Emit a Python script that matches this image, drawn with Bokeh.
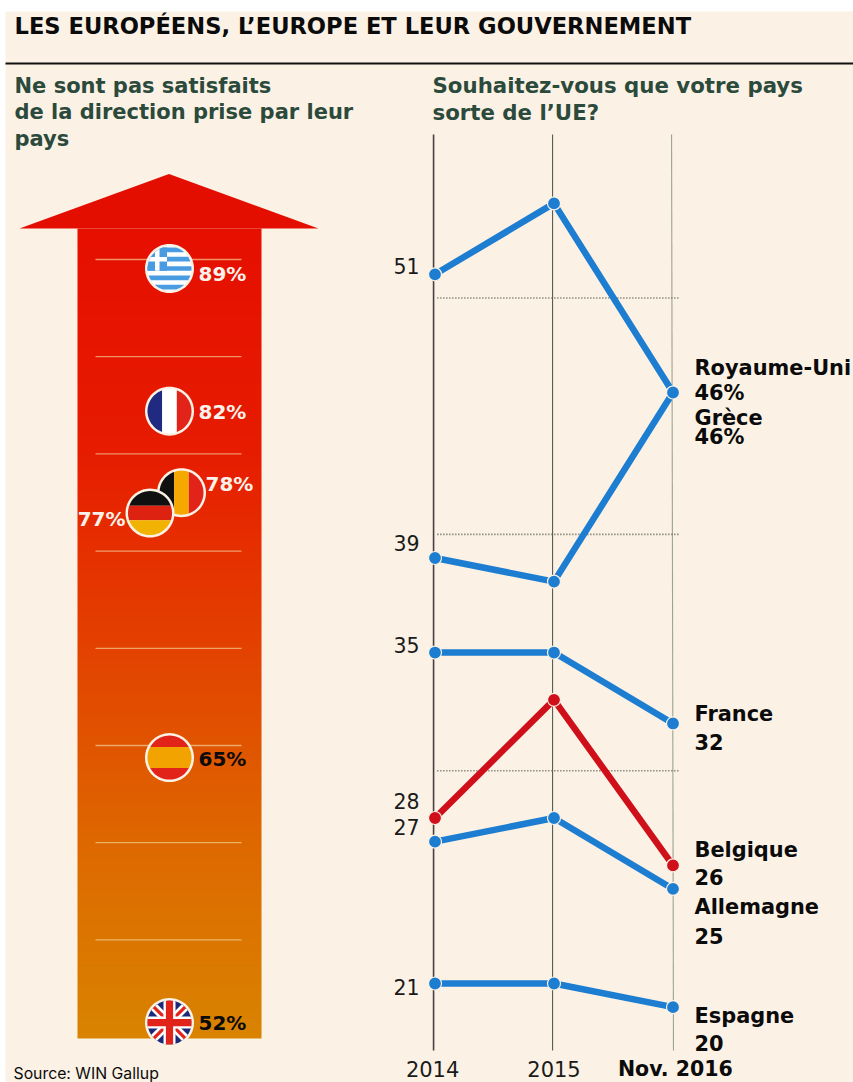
import math
import numpy as np
from bokeh.core.properties import value
from bokeh.embed import file_html
from bokeh.models import ColumnDataSource, Range1d
from bokeh.plotting import figure
from bokeh.resources import INLINE

# ---- data -------------------------------------------------------------
TITLE = "LES EUROPÉENS, L’EUROPE ET LEUR GOUVERNEMENT"
LEFT_HEADING = ["Ne sont pas satisfaits", "de la direction prise par leur", "pays"]
RIGHT_HEADING = ["Souhaitez-vous que votre pays", "sorte de l’UE?"]
SOURCE = "Source: WIN Gallup"

flag_names = ["Grèce", "France", "Belgique", "Allemagne", "Espagne", "Royaume-Uni"]
dissatisfied = [89, 82, 78, 77, 65, 52]

periods = ["2014", "2015", "Nov. 2016"]
uk = [51, 54, 46]
greece = [39, 38, 46]
france = [35, 35, 32]
germany = [27, 28, 25]
belgium = [28, 33, 26]
spain = [21, 21, 20]
reference_levels = [50, 40, 30]

# ---- layout -----------------------------------------------------------
W, H = 853, 1082
CREAM = "#FBF2E5"
BLUE = "#1C7DD1"
RED = "#CF0F1A"
INK = "#0B0B0B"
HEADING = "#2C4A3C"
BOLD_FONT = value("DejaVu Sans")
TEXT_FONT = value("DejaVu Sans")

p = figure(width=W, height=H, output_backend="svg", toolbar_location=None,
           x_range=Range1d(0, W), y_range=Range1d(H, 0),
           min_border=0, border_fill_color="white", background_fill_color="white",
           outline_line_color=None)
p.axis.visible = False
p.grid.visible = False

# Percentage scales sharing the frame with the pixel-sized page furniture.
PX_PER_PCT_LEFT = 20.38
Y_LEFT_89 = 268
p.extra_y_ranges["dissat"] = Range1d(89 - (H - Y_LEFT_89) / PX_PER_PCT_LEFT,
                                     89 + Y_LEFT_89 / PX_PER_PCT_LEFT)
PX_PER_PCT_RIGHT = 23.64
Y_RIGHT_21 = 983
p.extra_y_ranges["leave"] = Range1d(21 - (H - Y_RIGHT_21) / PX_PER_PCT_RIGHT,
                                    21 + Y_RIGHT_21 / PX_PER_PCT_RIGHT)
STEP = 119
X0 = 434.5
p.extra_x_ranges["period"] = Range1d(-X0 / STEP, (W - X0) / STEP)

# Page background and header
p.quad(left=[5], right=[W], top=[11], bottom=[H], fill_color=CREAM, line_color=None)


def lines_of_text(xs, ys, texts, size, color, style="bold", align="left", font=BOLD_FONT):
    p.text(x=xs, y=ys, text=texts, text_font=font, text_font_size=f"{size}px",
           text_font_style=style, text_color=color, text_align=align,
           text_baseline="middle")


lines_of_text([14], [25], [TITLE], 22.6, INK)
p.segment(x0=[5], x1=[W], y0=[63], y1=[63], line_color="#111111", line_width=2)
lines_of_text([14] * 3, [85, 111, 138], LEFT_HEADING, 21, HEADING)
lines_of_text([432] * 2, [85, 112], RIGHT_HEADING, 21.3, HEADING)
lines_of_text([13], [1073], [SOURCE], 15.8, INK, style="normal", font=value("Inter"))

# ---- left panel: gradient arrow ---------------------------------------
stops_y = [228, 450, 550, 700, 850, 1038]
stops_rgb = np.array([(230, 15, 0), (230, 28, 0), (230, 48, 0), (226, 76, 0),
                      (222, 106, 0), (217, 132, 0)])
rows = np.arange(228, 1038, 2)
ramp = np.zeros((len(rows), 1), dtype=np.uint32)
view = ramp.view(np.uint8).reshape((len(rows), 1, 4))
for i in range(3):
    view[:, 0, i] = np.interp(rows, stops_y, stops_rgb[:, i])
view[:, 0, 3] = 255
p.image_rgba(image=[ramp], x=77, y=228, dw=184, dh=810)
p.patch(x=[168.5, 318, 19], y=[173.5, 228, 228], fill_color="#E30E00", line_color=None)

grid_rows = [259 + 97.2 * i for i in range(8)]
p.segment(x0=95, x1=241, y0=grid_rows, y1=grid_rows, line_color="#F6D9A0",
          line_alpha=0.65, line_width=1.3)


# ---- left panel: round flags built from polygons clipped to a disc ----
def clip_to_disc(poly, radius, n=64):
    disc = [(radius * math.cos(2 * math.pi * i / n),
             radius * math.sin(2 * math.pi * i / n)) for i in range(n)]
    out = list(poly)
    for i in range(n):
        a, b = disc[i], disc[(i + 1) % n]
        side = lambda q: (b[0] - a[0]) * (q[1] - a[1]) - (b[1] - a[1]) * (q[0] - a[0])
        src, out = out, []
        for j in range(len(src)):
            s, e = src[j], src[(j + 1) % len(src)]
            ds, de = side(s), side(e)
            if ds >= 0:
                out.append(s)
            if (ds >= 0) != (de >= 0):
                t = ds / (ds - de)
                out.append((s[0] + t * (e[0] - s[0]), s[1] + t * (e[1] - s[1])))
        if not out:
            return []
    return out


def rect(x0, y0, x1, y1):
    return [(x0, y0), (x1, y0), (x1, y1), (x0, y1)]


def diagonal(angle, half_width, length=40):
    c, s = math.cos(angle), math.sin(angle)
    return [(c * u - s * v, s * u + c * v) for u, v in
            [(-length, -half_width), (length, -half_width),
             (length, half_width), (-length, half_width)]]


R = 22
WIDE = 30
GR_BLUE = "#4A9CE2"
greek = [(rect(-WIDE, -WIDE, WIDE, WIDE), "#FFFFFF")]
for k in range(0, 9, 2):
    top = -21 + k * 42 / 9
    greek.append((rect(-WIDE, top, WIDE, top + 42 / 9), GR_BLUE))
greek += [(rect(-WIDE, -21, -2.5, 2.3), GR_BLUE),
          (rect(-WIDE, -11.5, -2.5, -7), "#FFFFFF"),
          (rect(-14.5, -21, -10, 2.3), "#FFFFFF")]

french = [(rect(-WIDE, -WIDE, -7.3, WIDE), "#1F2A80"),
          (rect(-7.3, -WIDE, 7.3, WIDE), "#FFFFFF"),
          (rect(7.3, -WIDE, WIDE, WIDE), "#E2231A")]
belgian = [(rect(-WIDE, -WIDE, -7.3, WIDE), "#101010"),
           (rect(-7.3, -WIDE, 7.3, WIDE), "#F5A800"),
           (rect(7.3, -WIDE, WIDE, WIDE), "#E2231A")]
german = [(rect(-WIDE, -WIDE, WIDE, -7.3), "#101010"),
          (rect(-WIDE, -7.3, WIDE, 7.3), "#DD2211"),
          (rect(-WIDE, 7.3, WIDE, WIDE), "#F2B200")]
spanish = [(rect(-WIDE, -WIDE, WIDE, -10.5), "#E2231A"),
           (rect(-WIDE, -10.5, WIDE, 10.5), "#F3A300"),
           (rect(-WIDE, 10.5, WIDE, WIDE), "#E2231A")]
british = [(rect(-WIDE, -WIDE, WIDE, WIDE), "#1B2A78"),
           (diagonal(math.pi / 4, 4.2), "#FFFFFF"),
           (diagonal(-math.pi / 4, 4.2), "#FFFFFF"),
           (diagonal(math.pi / 4, 1.6), "#E2231A"),
           (diagonal(-math.pi / 4, 1.6), "#E2231A"),
           (rect(-WIDE, -6, WIDE, 6), "#FFFFFF"),
           (rect(-6, -WIDE, 6, WIDE), "#FFFFFF"),
           (rect(-WIDE, -3.6, WIDE, 3.6), "#E2231A"),
           (rect(-3.6, -WIDE, 3.6, WIDE), "#E2231A")]

flag_art = [greek, french, belgian, german, spanish, british]
flag_x = [169, 169, 181, 149.5, 169, 169]
pct_x = [198, 198, 205, 125, 198, 198]
pct_dy = [5, 1, -9, 6, 1, 0]
pct_align = ["left", "left", "left", "right", "left", "left"]
pct_color = ["#FBF2EC", "#FBF2EC", "#FBF2EC", "#FBF2EC", INK, INK]

for art, cx, pct in zip(flag_art, flag_x, dissatisfied):
    halo = clip_to_disc(rect(-30, -30, 30, 30), 24.5)
    xs, ys, colors = [[cx + q[0] for q in halo]], [[pct - q[1] / PX_PER_PCT_LEFT for q in halo]], [CREAM]
    for poly, color in art:
        piece = clip_to_disc(poly, R)
        if piece:
            xs.append([cx + q[0] for q in piece])
            ys.append([pct - q[1] / PX_PER_PCT_LEFT for q in piece])
            colors.append(color)
    p.patches(xs=xs, ys=ys, fill_color=colors, line_color=None, y_range_name="dissat")

p.text(x=pct_x, y=dissatisfied, text=[f"{v}%" for v in dissatisfied], y_offset=pct_dy,
       text_font=BOLD_FONT, text_font_size="20px", text_font_style="bold",
       text_color=pct_color, text_align=pct_align, text_baseline="middle",
       y_range_name="dissat")

# ---- right panel: slope chart -----------------------------------------
period_pos = list(range(len(periods)))
axis_colors = ["#4A4040", "#5A5C52", "#9EA292"]
axis_widths = [1.6, 1.1, 1.1]
for pos, color, width in zip(period_pos, axis_colors, axis_widths):
    p.segment(x0=[pos - 0.012], x1=[pos - 0.012] if pos < 2 else [pos + 0.004],
              y0=[134], y1=[1050], x_range_name="period", line_color=color, line_width=width)

p.segment(x0=0.02, x1=2.05, y0=reference_levels, y1=reference_levels,
          x_range_name="period", y_range_name="leave",
          line_color="#55584C", line_width=1.6, line_dash="1 2")

series = [(uk, BLUE), (greece, BLUE), (france, BLUE), (germany, BLUE), (spain, BLUE), (belgium, RED)]
for values, color in series:
    src = ColumnDataSource(dict(x=period_pos, y=values))
    p.line("x", "y", source=src, line_color=color, line_width=6.5,
           x_range_name="period", y_range_name="leave")
    p.scatter("x", "y", source=src, size=13, fill_color=color, line_color=CREAM, line_width=1.2,
              x_range_name="period", y_range_name="leave")

# Opening values, to the left of the first vertical rule
start_values = [s[0][0] for s in series]
start_dy = [-8, -15, -8, -15, 3, -17]
p.text(x=[-0.13] * 6, y=start_values, text=[str(v) for v in start_values], y_offset=start_dy,
       text_font=TEXT_FONT, text_font_size="20.5px", text_color="#1A1A1A", text_align="right",
       text_baseline="middle", x_range_name="period", y_range_name="leave")

# Closing labels, to the right of the last rule
end_names = ["Royaume-Uni", "Grèce", "France", "Belgique", "Allemagne", "Espagne"]
end_series = [uk, greece, france, belgium, germany, spain]
end_suffix = ["%", "%", "", "", "", ""]
name_dy = [-25, 25, -9, -15, 18, 9]
value_dy = [0, 44, 19, 12, 47, 36]
label_x = 2 + 21.5 / STEP
for name, vals, suffix, ndy, vdy in zip(end_names, end_series, end_suffix, name_dy, value_dy):
    p.text(x=[label_x, label_x], y=[vals[-1], vals[-1]],
           text=[name, f"{vals[-1]}{suffix}"], y_offset=[ndy, vdy],
           text_font=BOLD_FONT, text_font_size="20.9px", text_font_style="bold", text_color=INK,
           text_baseline="middle", x_range_name="period", y_range_name="leave")

# Period labels along the foot of the rules
year_x = [-0.02, 0, 0.02]
year_size = ["21px", "21px", "20.5px"]
for pos, shift, label, style, size in zip(period_pos, year_x, periods,
                                          ["normal", "normal", "bold"], year_size):
    p.text(x=[pos + shift], y=[1068], text=[label], text_font=BOLD_FONT, text_font_size=size,
           text_font_style=style, text_color="#1A1A1A" if style == "normal" else INK,
           text_align="center", text_baseline="middle", x_range_name="period")

open("out.html", "w").write(file_html(p, INLINE))
